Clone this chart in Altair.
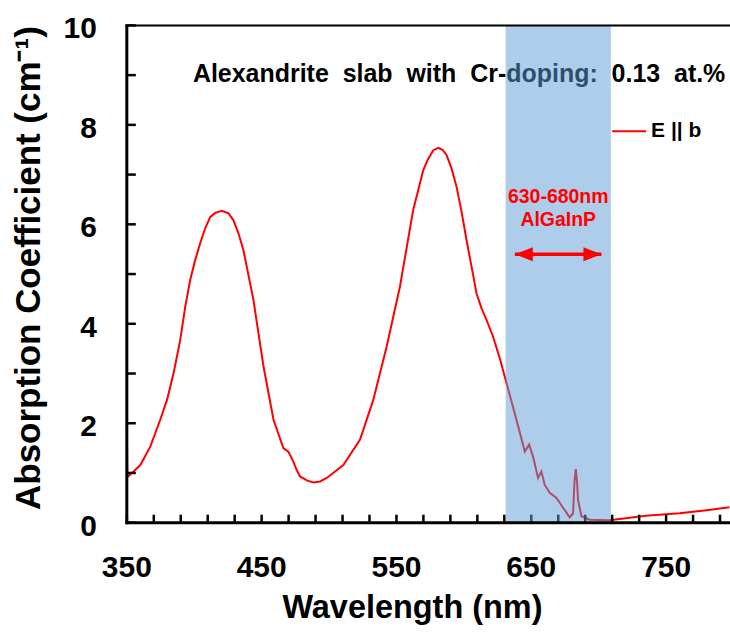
import altair as alt
import pandas as pd

# Absorption spectrum of a Cr-doped alexandrite slab, E || b polarisation
wavelength_nm = [
    350.0, 350.4, 355.0, 360.0, 367.4, 374.8, 379.8, 384.7, 389.6, 393.3,
    397.0, 400.7, 404.4, 408.1, 411.9, 415.6, 420.5, 425.4, 429.1, 432.8,
    436.5, 443.9, 451.4, 458.8, 466.1, 469.8, 473.5, 476.0, 478.5, 483.5,
    488.4, 493.3, 498.3, 510.6, 523.0, 532.8, 542.7, 552.6, 562.4, 569.9,
    573.6, 577.3, 581.0, 584.2, 587.2, 590.9, 594.6, 598.3, 602.0, 605.7,
    609.4, 613.1, 616.8, 621.7, 626.7, 631.6, 639.0, 645.2, 648.4, 651.3,
    655.0, 657.5, 660.0, 663.7, 668.7, 673.6, 678.5, 681.0, 682.0, 683.0,
    684.0, 684.7, 687.2, 693.3, 708.0, 720.0, 735.0, 760.0, 780.0, 797.0,
]
absorption = [
    1.95, 0.92, 1.03, 1.16, 1.53, 2.07, 2.47, 3.01, 3.67, 4.34,
    4.88, 5.28, 5.62, 5.92, 6.15, 6.23, 6.27, 6.22, 6.08, 5.82,
    5.48, 4.48, 3.14, 2.07, 1.50, 1.43, 1.23, 1.06, 0.93, 0.85,
    0.81, 0.83, 0.90, 1.16, 1.67, 2.47, 3.54, 4.75, 6.29, 7.09,
    7.32, 7.49, 7.54, 7.50, 7.39, 7.12, 6.75, 6.25, 5.68, 5.15,
    4.61, 4.31, 4.08, 3.74, 3.30, 2.81, 2.07, 1.43, 1.57, 1.33,
    0.90, 1.03, 0.76, 0.60, 0.50, 0.30, 0.11, 0.19, 0.80, 1.08,
    0.80, 0.46, 0.13, 0.06, 0.05, 0.09, 0.14, 0.19, 0.25, 0.31,
]
series_name = "E || b"

# AlGaInP diode emission window (shaded band) and its annotation
band_start = [631.0]
band_end = [709.0]
arrow_tips = [637.8, 702.0]
arrow_level = [5.40]
band_labels = ["630-680nm", "AlGaInP"]
band_label_x = [670.0, 670.0]
band_label_y = [6.55, 6.08]

title_text = ["Alexandrite \u00a0slab \u00a0with \u00a0Cr-doping: \u00a00.13 \u00a0at.%"]
title_x = [399.0]
title_y = [9.02]

x_ticks = list(range(350, 800, 20))
x_labels = [350, 450, 550, 650, 750]
y_ticks = list(range(0, 11))
y_labels = [0, 2, 4, 6, 8, 10]
x_title = "Wavelength (nm)"
y_title = "Absorption Coefficient (cm⁻¹)"

X_MIN, X_MAX = 350, 797.4
Y_MIN, Y_MAX = 0, 10
PLOT_W, PLOT_H = 604, 498
PX_PER_NM = PLOT_W / (X_MAX - X_MIN)
PX_PER_UNIT = PLOT_H / (Y_MAX - Y_MIN)
FONT = "Liberation Sans"

spectrum = pd.DataFrame({"wl": wavelength_nm, "a": absorption, "s": series_name})
x_scale = alt.Scale(domain=[X_MIN, X_MAX], nice=False, zero=False)
y_scale = alt.Scale(domain=[Y_MIN, Y_MAX], nice=False)


def dx(px):
    return px / PX_PER_NM


def dy(px):
    return px / PX_PER_UNIT


def X(field):
    return alt.X(field, type="quantitative", scale=x_scale, axis=None)


def Y(field):
    return alt.Y(field, type="quantitative", scale=y_scale, axis=None)


curve = alt.Chart(spectrum).mark_line(strokeWidth=2).encode(
    x=X("wl"),
    y=Y("a"),
    color=alt.Color(
        "s:N",
        scale=alt.Scale(domain=[series_name], range=["#FF0000"]),
        legend=alt.Legend(
            orient="none", legendX=485, legendY=88, title=None, padding=0,
            symbolType="stroke", symbolSize=1156, symbolStrokeWidth=2,
            labelFont=FONT, labelFontSize=21, labelFontWeight="bold",
            labelColor="black", labelOffset=4,
        ),
    ),
)

title = alt.Chart(pd.DataFrame({"t": title_text, "x": title_x, "y": title_y})).mark_text(
    font=FONT, fontSize=25, fontWeight="bold", color="black", align="left", baseline="middle"
).encode(x=X("x"), y=Y("y"), text="t:N")

# Inward tick marks (8 px on the x axis, 9 px on the y axis)
tick_rows = []
for v in x_ticks:
    tick_rows.append({"x0": v - dx(1.25), "x1": v + dx(1.25), "y0": Y_MIN, "y1": Y_MIN + dy(8)})
for v in y_ticks:
    tick_rows.append({"x0": X_MIN, "x1": X_MIN + dx(9), "y0": v - dy(1.25), "y1": v + dy(1.25)})
ticks = alt.Chart(pd.DataFrame(tick_rows)).mark_rect(color="black").encode(
    x=X("x0"), x2="x1", y=Y("y0"), y2="y1",
)

# Tick labels and axis titles
xlab = alt.Chart(pd.DataFrame({"v": x_labels, "t": [str(v) for v in x_labels]})).mark_text(
    font=FONT, fontSize=30, fontWeight="bold", color="black", align="center", baseline="alphabetic"
).encode(x=X("v"), y=alt.value(PLOT_H + 54), text="t:N")
ylab = alt.Chart(pd.DataFrame({"v": y_labels, "t": [str(v) for v in y_labels]})).mark_text(
    font=FONT, fontSize=30, fontWeight="bold", color="black", align="right",
    baseline="alphabetic", dy=13,
).encode(y=Y("v"), x=alt.value(-30), text="t:N")
xtitle = alt.Chart(pd.DataFrame({"t": [x_title]})).mark_text(
    font=FONT, fontSize=32.5, fontWeight="bold", color="black", align="center", baseline="alphabetic"
).encode(x=alt.value(286), y=alt.value(PLOT_H + 95), text="t:N")
ytitle = alt.Chart(pd.DataFrame({"t": [y_title]})).mark_text(
    font=FONT, fontSize=35, fontWeight="bold", color="black", align="center",
    baseline="middle", angle=270,
).encode(x=alt.value(-98), y=alt.value(243), text="t:N")

band = alt.Chart(pd.DataFrame({"lo": band_start, "hi": band_end})).mark_rect(
    color="#5B9BD5", opacity=0.5
).encode(
    x=X("lo"), x2="hi",
    y=alt.value(0), y2=alt.value(PLOT_H),
)

# Frame: 3 px left and bottom axis lines, 2 px line along the top
frame_df = pd.DataFrame([
    {"x0": X_MIN - dx(1.5), "x1": X_MIN + dx(1.5), "y0": Y_MIN - dy(1.5), "y1": Y_MAX + dy(1)},
    {"x0": X_MIN - dx(1.5), "x1": X_MAX, "y0": Y_MIN - dy(1.5), "y1": Y_MIN + dy(1.5)},
    {"x0": X_MIN - dx(1.5), "x1": X_MAX, "y0": Y_MAX - dy(1), "y1": Y_MAX + dy(1)},
])
frame = alt.Chart(frame_df).mark_rect(color="black").encode(
    x=X("x0"), x2="x1", y=Y("y0"), y2="y1",
)

band_text = alt.Chart(
    pd.DataFrame({"t": band_labels, "x": band_label_x, "y": band_label_y})
).mark_text(
    font=FONT, fontSize=19.5, fontWeight="bold", color="#FF0000", align="center", baseline="middle"
).encode(x=X("x"), y=Y("y"), text="t:N")

arrow_df = pd.DataFrame({"x0": [arrow_tips[0]], "x1": [arrow_tips[1]], "y": arrow_level})
arrow_shaft = alt.Chart(arrow_df).mark_rule(color="#FF0000", strokeWidth=3.5).encode(
    x=X("x0"), x2="x1", y=Y("y"),
)
head_left = alt.Chart(arrow_df).mark_point(
    shape="M-1,0L1,-0.78L1,0.78Z", size=324, filled=True, color="#FF0000", opacity=1
).encode(x=X("x0"), y=Y("y"), xOffset=alt.value(9))
head_right = alt.Chart(arrow_df).mark_point(
    shape="M1,0L-1,-0.78L-1,0.78Z", size=324, filled=True, color="#FF0000", opacity=1
).encode(x=X("x1"), y=Y("y"), xOffset=alt.value(-9))

chart = alt.layer(
    curve, title, ticks, band, frame, xlab, ylab, xtitle, ytitle,
    band_text, arrow_shaft, head_left, head_right,
).properties(
    width=PLOT_W, height=PLOT_H,
    autosize=alt.AutoSizeParams(type="none"),
    padding={"left": 127, "top": 25, "right": 0, "bottom": 109},
).configure(background="white").configure_view(strokeWidth=0)

chart.save("out.html", embed_options={"renderer": "svg", "actions": False})
